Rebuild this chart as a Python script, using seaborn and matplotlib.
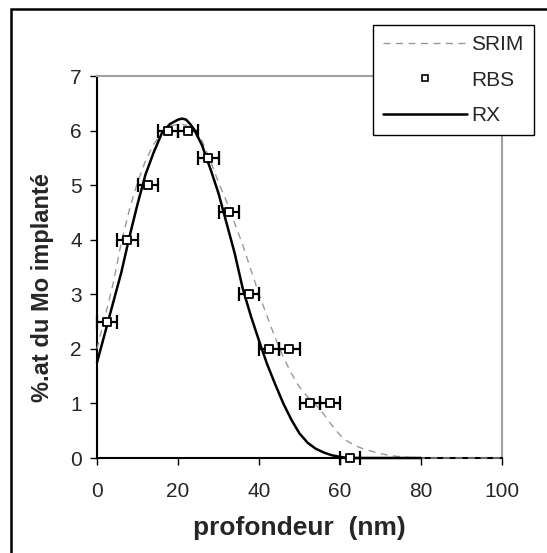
import numpy as np
import matplotlib
matplotlib.use("Agg")
import matplotlib.pyplot as plt
from matplotlib.lines import Line2D
from matplotlib.patches import Rectangle
import seaborn as sns
import pandas as pd

# RBS points (x error bars of +-2.5 nm)
rbs_x = [2.5, 7.5, 12.5, 17.5, 22.5, 27.5, 32.5, 37.5, 42.5, 47.5, 52.5, 57.5, 62.5]
rbs_y = [2.5, 4, 5, 6, 6, 5.5, 4.5, 3, 2, 2, 1, 1, 0]
rbs_err = [2.5] * len(rbs_x)

# RX profile (solid black)
rx_x = [0, 2, 4, 6, 8, 10, 12, 14, 16, 18, 20, 21, 22, 23, 24, 26, 27, 28, 30, 32,
        34, 36, 38, 40, 42, 44, 46, 48, 50, 52, 54, 56, 58, 60, 62, 80]
rx_y = [1.75, 2.3, 2.85, 3.4, 4.05, 4.65, 5.2, 5.6, 5.95, 6.12, 6.2, 6.22, 6.2, 6.12, 6.02,
        5.72, 5.5, 5.3, 4.85, 4.3, 3.75, 3.1, 2.6, 2.15, 1.72, 1.35, 1.0, 0.7, 0.45,
        0.28, 0.17, 0.1, 0.05, 0.02, 0.0, 0.0]

# SRIM profile (grey dashed)
srim_x = [0, 2, 4, 6, 8, 10, 12, 14, 16, 18, 20, 22, 24, 26, 28, 30, 32, 34, 36, 38,
          40, 42, 44, 46, 48, 50, 52, 54, 56, 58, 60, 62, 64, 66, 68, 70, 72, 74, 76, 78, 100]
srim_y = [2.0, 2.6, 3.2, 3.95, 4.55, 5.05, 5.45, 5.75, 5.95, 6.08, 6.12, 6.1, 6.0, 5.8,
          5.45, 5.05, 4.7, 4.3, 3.9, 3.45, 3.0, 2.6, 2.2, 1.85, 1.55, 1.3, 1.12, 0.98, 0.8,
          0.6, 0.42, 0.3, 0.22, 0.16, 0.12, 0.08, 0.05, 0.03, 0.02, 0.0, 0.0]

sns.set_style("white")
plt.rcParams['font.family'] = ['Liberation Sans', 'DejaVu Sans']

fig = plt.figure(figsize=(5.47, 5.53), dpi=100)
ax = fig.add_axes([97 / 547, 1 - 458 / 553, (502 - 97) / 547, (458 - 76) / 553])

srim = pd.DataFrame({"x": srim_x, "y": srim_y})
rx = pd.DataFrame({"x": rx_x, "y": rx_y})

sns.lineplot(data=srim, x="x", y="y", ax=ax, color="#999999", lw=1.0,
             dashes=False, sort=False, zorder=4, clip_on=False)
ax.lines[-1].set_dashes([5, 4])
sns.lineplot(data=rx, x="x", y="y", ax=ax, color="black", lw=1.8,
             sort=False, zorder=5, clip_on=False)
ax.errorbar(rbs_x, rbs_y, xerr=rbs_err, fmt="none", ecolor="black",
            elinewidth=1.6, capsize=5, capthick=1.6, zorder=6, clip_on=False)
sns.scatterplot(x=rbs_x, y=rbs_y, ax=ax, marker="s", s=28, color="white",
                edgecolor="black", linewidth=1.3, zorder=7, clip_on=False)

ax.set_xlim(0, 100)
ax.set_ylim(0, 7)
ax.set_xticks([0, 20, 40, 60, 80, 100])
ax.set_yticks(range(0, 8))
ax.tick_params(axis="both", direction="out", length=5, width=1, color="black",
               labelsize=15, left=True, bottom=True)
ax.tick_params(axis="x", pad=12)
ax.tick_params(axis="y", pad=6)
for side in ["top", "right"]:
    ax.spines[side].set_color("#a0a0a0")
    ax.spines[side].set_linewidth(1.5)
for side in ["left", "bottom"]:
    ax.spines[side].set_color("black")
    ax.spines[side].set_linewidth(1.5)

ax.set_xlabel("profondeur  (nm)", fontsize=19, fontweight="bold", labelpad=11)
ax.set_ylabel("%.at du Mo implanté", fontsize=17, fontweight="bold")
ax.yaxis.set_label_coords(-0.105, 0.445)

handles = [
    Line2D([], [], color="#999999", lw=1.0, dashes=[5, 4]),
    Line2D([], [], ls="none", marker="s", markersize=5, markerfacecolor="white",
           markeredgecolor="black", markeredgewidth=1.2),
    Line2D([], [], color="black", lw=1.8),
]
leg = ax.legend(handles, ["SRIM", "RBS", "RX"], loc="upper left",
                bbox_to_anchor=(373 / 547, 1 - 25 / 553), bbox_transform=fig.transFigure,
                fontsize=15, frameon=True, fancybox=False, framealpha=1,
                edgecolor="black", handlelength=4.0, handletextpad=0.2,
                labelspacing=0.78, borderpad=0.5, borderaxespad=0)
leg.get_frame().set_linewidth(1.0)
leg.set_zorder(10)

# outer frame of the figure
fig.patches.append(Rectangle((11 / 547, -0.05), 1.0, 1 - 9 / 553 + 0.05,
                             transform=fig.transFigure, fill=False,
                             edgecolor="black", lw=1.8))

fig.savefig("out.png", dpi=100)
